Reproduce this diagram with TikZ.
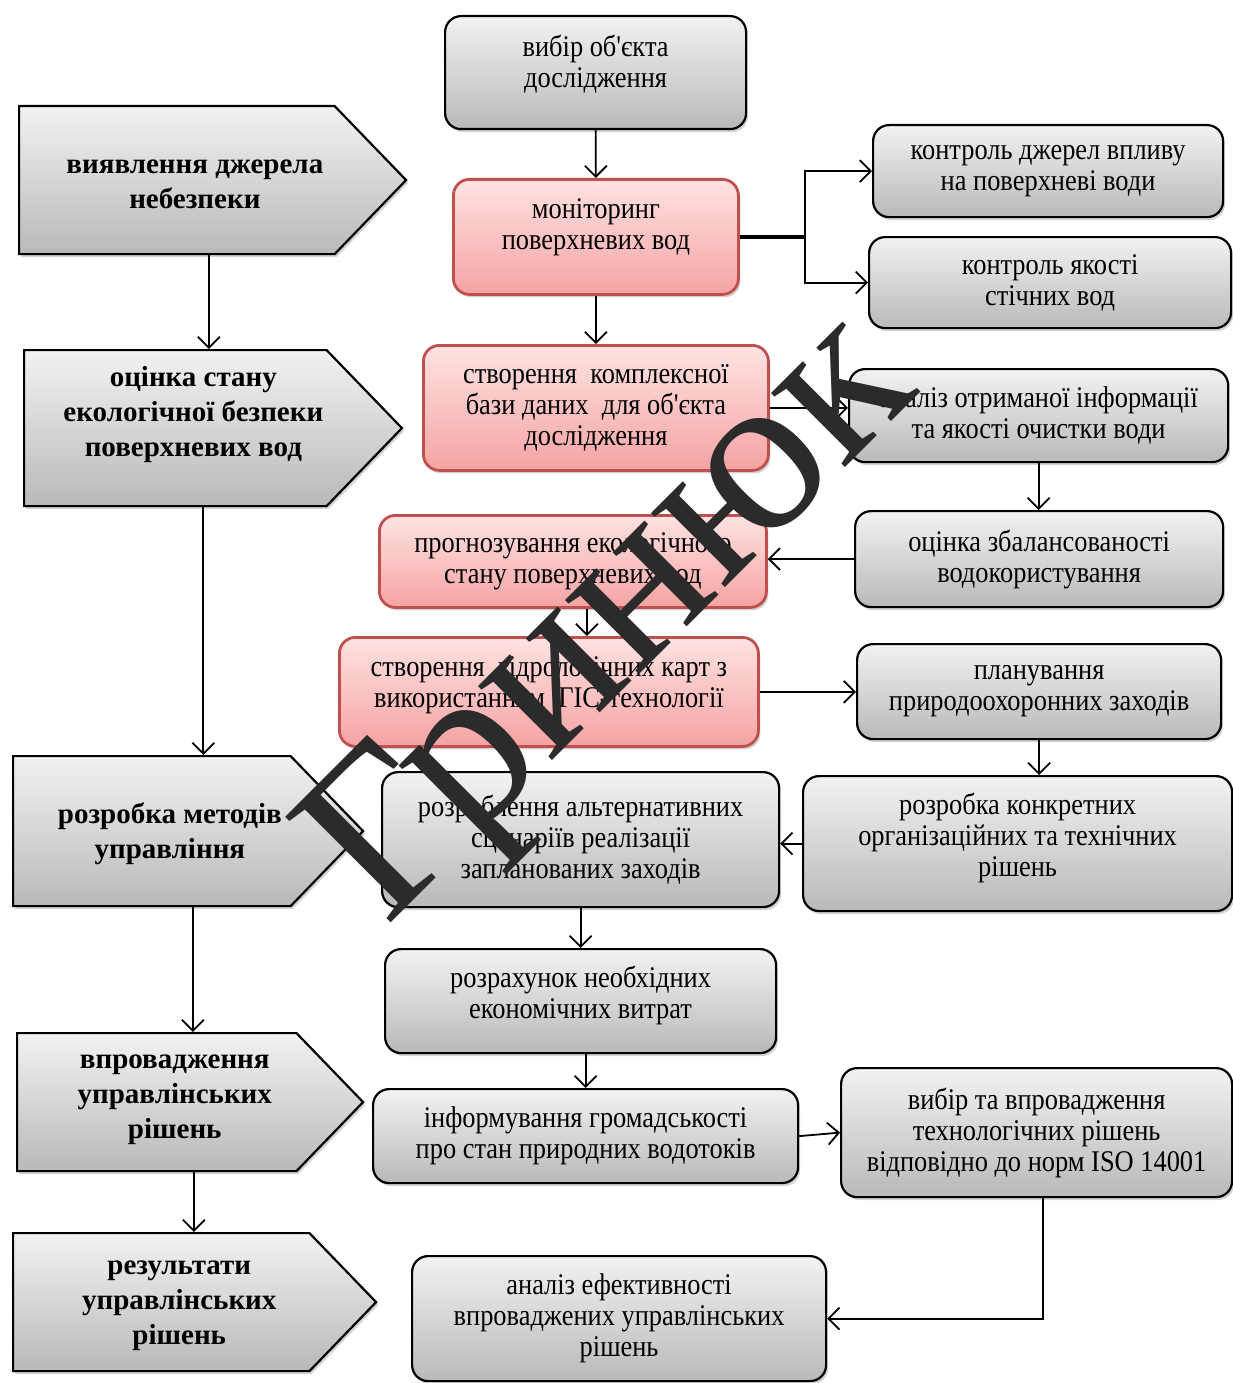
\documentclass[tikz,border=0pt]{standalone}
\usepackage{fontspec}
\setmainfont{Liberation Serif}
\newfontfamily\boxfont[FakeStretch=0.88]{Liberation Serif}
\usepackage{tikz}
\usetikzlibrary{arrows.meta, shapes.symbols, shadows}

\definecolor{boxgrayA}{HTML}{F2F2F2}
\definecolor{boxgrayB}{HTML}{B9B9B9}
\definecolor{boxpinkA}{HTML}{FFE2E2}
\definecolor{boxpinkB}{HTML}{F5A3A3}
\definecolor{boxred}{HTML}{C0504D}
\definecolor{markgray}{HTML}{2B2B2B}

% text of a stage, set a little right of the body's middle
\newcommand{\stagetext}[2][0pt]{\hspace*{36pt}\raisebox{#1}[\height][\depth]{\begin{tabular}{@{}c@{}}#2\end{tabular}}}
% box text lifted a little
\newcommand{\liftedtext}[2]{\raisebox{#1}[\height][\depth]{\begin{tabular}{@{}c@{}}#2\end{tabular}}}

\begin{document}
\begin{tikzpicture}[x=1pt, y=-1pt,
    every node/.style={anchor=north west, align=center, font=\boxfont\fontsize{30}{31}\selectfont},
    shade/.style={drop shadow={shadow xshift=2pt, shadow yshift=-3pt, opacity=0.35}},
    graybox/.style={shade, draw=black, line width=2.2pt, rounded corners=16pt, top color=boxgrayA, bottom color=boxgrayB},
    pinkbox/.style={shade, draw=boxred, line width=2.8pt, rounded corners=16pt, top color=boxpinkA, bottom color=boxpinkB},
    stagebox/.style={shade, signal, signal to=east, signal pointer angle=92, draw=black, line width=2.2pt, top color=boxgrayA, bottom color=boxgrayB, font=\rmfamily\fontsize{29}{35}\selectfont\bfseries},
    arr/.style={line width=1.8pt, -{Straight Barb[length=11pt, width=22pt, line width=1.8pt]}}]
    \useasboundingbox (0,0) rectangle (1233,1383);

    % stages on the left
    \node (lA) [stagebox, minimum width=387, minimum height=148] at (18,105) {\stagetext[-4pt]{виявлення джерела\\небезпеки}};
    \node (lB) [stagebox, minimum width=375, minimum height=156] at (23,349) {\stagetext[14pt]{оцінка стану\\екологічної безпеки\\поверхневих вод}};
    \node (lC) [stagebox, minimum width=350, minimum height=150] at (12,755) {\stagetext[-3pt]{розробка методів\\управління}};
    \node (lD) [stagebox, minimum width=346, minimum height=138] at (16,1032) {\stagetext[6pt]{впровадження\\управлінських\\рішень}};
    \node (lE) [stagebox, minimum width=363, minimum height=138] at (12,1232) {\stagetext{результати\\управлінських\\рішень}};

    % middle column
    \node (cA) [graybox, minimum width=301, minimum height=113] at (444,15) {\liftedtext{7pt}{вибір об'єкта\\дослідження}};
    \node (cB) [pinkbox, minimum width=285, minimum height=115] at (452,178) {\liftedtext{9pt}{моніторинг\\поверхневих вод}};
    \node (cC) [pinkbox, minimum width=345, minimum height=125] at (422,344) {створення~~комплексної\\бази даних~~для об'єкта\\дослідження};
    \node (cD) [pinkbox, minimum width=387, minimum height=92] at (378,514) {прогнозування екологічного\\стану поверхневих вод};
    \node (cE) [pinkbox, minimum width=419, minimum height=109] at (338,636) {\liftedtext{6pt}{створення~~гідрологічних карт з\\використанням~~ГІС-технології}};
    \node (cF) [graybox, minimum width=397, minimum height=135] at (381,771) {розроблення альтернативних\\сценаріїв реалізації\\запланованих заходів};
    \node (cG) [graybox, minimum width=391, minimum height=104] at (384,948) {\liftedtext{4pt}{розрахунок необхідних\\економічних витрат}};
    \node (cH) [graybox, minimum width=425, minimum height=94] at (372,1088) {інформування громадськості\\про стан природних водотоків};
    \node (cI) [graybox, minimum width=414, minimum height=125] at (411,1255) {аналіз ефективності\\впроваджених управлінських\\рішень};

    % right column
    \node (rA) [graybox, minimum width=350, minimum height=92] at (872,124) {контроль джерел впливу\\на поверхневі води};
    \node (rB) [graybox, minimum width=362, minimum height=91] at (868,236) {контроль якості\\стічних вод};
    \node (rC) [graybox, minimum width=379, minimum height=93] at (848,368) {аналіз отриманої інформації\\та якості очистки води};
    \node (rD) [graybox, minimum width=368, minimum height=96] at (854,510) {оцінка збалансованості\\водокористування};
    \node (rE) [graybox, minimum width=364, minimum height=95] at (856,643) {планування\\природоохоронних заходів};
    \node (rF) [graybox, minimum width=429, minimum height=135] at (802,775) {\liftedtext{4pt}{розробка конкретних\\організаційних та технічних\\рішень}};
    \node (rG) [graybox, minimum width=391, minimum height=129] at (840,1067) {вибір та впровадження\\технологічних рішень\\відповідно до норм ISO 14001};

    % connectors
    \draw[arr] ([xshift=32pt]lA.south) -- ([xshift=32pt]lA.south |- lB.north);
    \draw[arr] ([xshift=28pt]lB.south) -- ([xshift=28pt]lB.south |- lC.north);
    \draw[arr] ([xshift=41pt]lC.south) -- ([xshift=41pt]lC.south |- lD.north);
    \draw[arr] ([xshift=37pt]lD.south) -- ([xshift=37pt]lD.south |- lE.north);

    \draw[arr] (cA) -- (cB);
    \draw[line width=4pt] (cB.east) -- ++(65,0) coordinate (split);
    \draw[arr] (split) |- (rA.west);
    \draw[arr] (split) |- (rB.west);
    \draw[arr] (cB) -- (cC);
    \draw[arr] (cC.east) -- (cC.east -| rC.west);
    \draw[arr] (rC.south) -- (rC.south |- rD.north);
    \draw[arr] (rD.west) -- (rD.west -| cD.east);
    \draw[arr] ([xshift=14pt]cD.south) -- ([xshift=14pt]cD.south |- cE.north);
    \draw[arr] (cE.east) -- (cE.east -| rE.west);
    \draw[arr] (rE.south) -- (rE.south |- rF.north);
    \draw[arr] (rF.west) -- (rF.west -| cF.east);
    \draw[arr] (cF) -- (cG);
    \draw[arr] (cH.north |- cG.south) -- (cH.north);
    \draw[arr] (cH.east) -- (rG.west);
    \draw[arr] ([xshift=6pt]rG.south) |- (cI.east);

    % watermark
    \node (mark) [anchor=center, rotate=45, text=markgray, font=\rmfamily\fontsize{228}{228}\selectfont] at (618,624) {Гринюк};
\end{tikzpicture}
\end{document}
